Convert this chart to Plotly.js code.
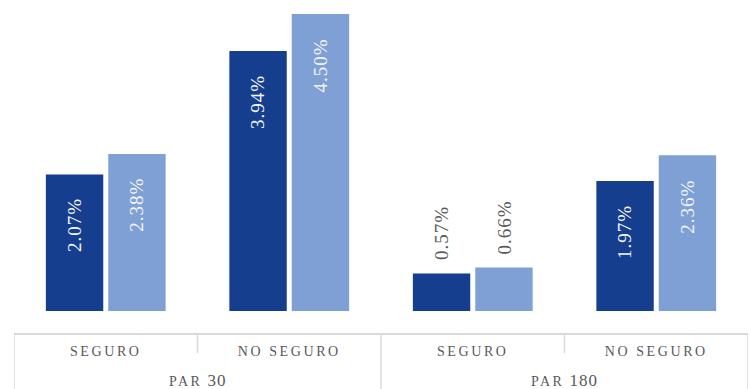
<!DOCTYPE html>
<html><head><meta charset="utf-8">
<script src="https://cdn.plot.ly/plotly-3.0.1.min.js"></script>
<style>
html,body{margin:0;padding:0;background:#fff;}
#chart{width:750px;height:389px;}
.xtick text{letter-spacing:2.6px;}
.annotation-text{letter-spacing:1px;}
</style></head><body><div id="chart"></div>
<script>
const groups = ["PAR 30","PAR 30","PAR 180","PAR 180"];
const cats = ["SEGURO","NO SEGURO","SEGURO","NO SEGURO"];
const seriesA = [2.07,3.94,0.57,1.97];
const seriesB = [2.38,4.50,0.66,2.36];
const labelsA = ["2.07%","3.94%","0.57%","1.97%"];
const labelsB = ["2.38%","4.50%","0.66%","2.36%"];

const colors = ["#153e8f","#7fa0d4"];
const BARGAP = 0.32, GROUPGAP = 0.08;
const idx = cats.map((c,i)=>i);
const slot = (1-BARGAP)/2;
const FONT = "Liberation Serif";

const traces = [
  {type:'bar', x:idx, y:seriesA, marker:{color:colors[0]}, hoverinfo:'skip'},
  {type:'bar', x:idx, y:seriesB, marker:{color:colors[1]}, hoverinfo:'skip'}
];

const annotations = [];
function addLabels(vals, labels, dx){
  vals.forEach((v,i)=>{
    const inside = v > 1;
    annotations.push({
      x: i + dx, y: v, xref:'x', yref:'y', text: labels[i], textangle:-90,
      showarrow:false, xanchor:'center', yanchor: inside ? 'top' : 'bottom',
      yshift: inside ? -22 : 11,
      font:{family:FONT, size:19, color: inside ? '#f4f4f4' : '#595959'}
    });
  });
}
addLabels(seriesA, labelsA, -slot/2);
addLabels(seriesB, labelsB, slot/2);

// group labels
const uniqGroups = [...new Set(groups)];
uniqGroups.forEach(g=>{
  const members = idx.filter(i=>groups[i]===g);
  const mid = members.reduce((a,b)=>a+b,0)/members.length;
  const parts = g.split(' ');
  annotations.push({
    x: mid, y: -0.233, xref:'x', yref:'paper', showarrow:false,
    xanchor:'center', yanchor:'middle',
    text: '<span style="font-size:14px;letter-spacing:2.4px">'+parts[0]+'</span> '+parts[1],
    font:{family:FONT, size:17, color:'#595959'}
  });
});

// table lines
const lineC = '#d9d9d9';
const yTop = -23/297, yMid = -42/297, yBot = -80/297;
const shapes = [
  {type:'line', xref:'x', yref:'paper', x0:-0.5, x1:cats.length-0.5, y0:yTop, y1:yTop, line:{color:lineC, width:2}}
];
for(let b=0;b<=cats.length;b++){
  const xb = b-0.5;
  const isGroupEdge = (b===0 || b===cats.length || groups[b]!==groups[b-1]);
  shapes.push({type:'line', xref:'x', yref:'paper', x0:xb, x1:xb, y0:yTop, y1: isGroupEdge ? yBot : yMid,
    line:{color:lineC, width:1.5}});
}

const layout = {
  width:750, height:389,
  margin:{l:14, r:2, t:14, b:78},
  paper_bgcolor:'#fff', plot_bgcolor:'#fff',
  barmode:'group', bargap:BARGAP, bargroupgap:GROUPGAP,
  showlegend:false,
  xaxis:{range:[-0.5, cats.length-0.5], tickvals:idx, ticktext:cats, showgrid:false, zeroline:false,
    showline:false, ticks:'', ticklabelstandoff:30, fixedrange:true,
    tickfont:{family:FONT, size:14, color:'#595959'}},
  yaxis:{range:[0,4.5], visible:false, showgrid:false, zeroline:false, fixedrange:true},
  annotations, shapes
};
Plotly.newPlot('chart', traces, layout, {displayModeBar:false, staticPlot:true});
</script></body></html>
